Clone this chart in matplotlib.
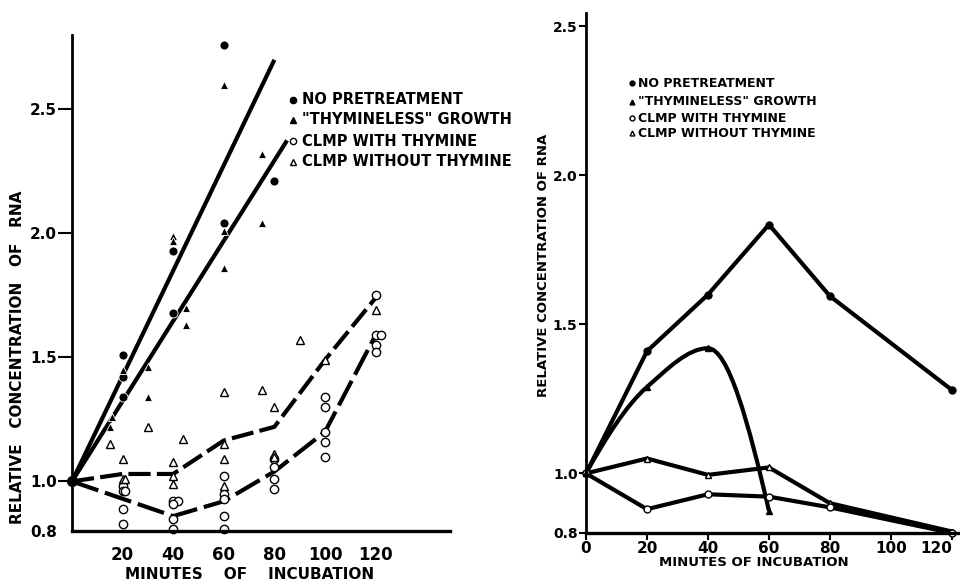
import numpy as np
import matplotlib
matplotlib.use("Agg")
import matplotlib.pyplot as plt
from matplotlib.path import Path
from matplotlib.patches import PathPatch

plt.rcParams['font.family'] = ['DejaVu Sans']
plt.rcParams['lines.scale_dashes'] = False

# ---- left panel: individual experiments ----
np_x = [20, 20, 20, 40, 40, 60, 60, 80]
np_y = [1.51, 1.42, 1.34, 1.93, 1.68, 2.76, 2.04, 2.21]

tg_x = [15, 16, 20, 30, 30, 40, 40, 45, 45, 60, 60, 60, 75, 75]
tg_y = [1.22, 1.26, 1.45, 1.46, 1.34, 1.99, 1.97, 1.70, 1.63, 2.60, 2.01, 1.86, 2.32, 2.04]

cw_x = [20, 20, 21, 20, 20, 40, 42, 40, 40, 40, 60, 60, 60, 60, 60,
        80, 80, 80, 80, 100, 100, 100, 100, 100, 120, 122, 120, 120, 120]
cw_y = [0.98, 0.96, 0.96, 0.89, 0.83, 0.92, 0.92, 0.91, 0.85, 0.81, 1.02, 0.95, 0.93, 0.86, 0.81,
        1.09, 1.06, 1.01, 0.97, 1.34, 1.30, 1.20, 1.16, 1.10, 1.59, 1.59, 1.55, 1.52, 1.75]

cwo_x = [15, 20, 20, 21, 30, 40, 40, 40, 44, 60, 60, 60, 60, 75, 80, 80, 80, 90, 100, 120]
cwo_y = [1.15, 1.09, 1.01, 1.01, 1.22, 1.08, 1.02, 0.99, 1.17, 1.36, 1.15, 1.09, 0.98, 1.37,
         1.30, 1.11, 1.10, 1.57, 1.49, 1.69]

# fitted / drawn curves
fit_np_x = [0, 80]
fit_np_y = [1.0, 2.70]
fit_tg_x = [0, 85]
fit_tg_y = [1.0, 2.375]
fit_cwo_x = [0, 20, 40, 60, 80, 100, 120]
fit_cwo_y = [1.0, 1.03, 1.03, 1.165, 1.22, 1.49, 1.74]
fit_cw_x = [0, 20, 40, 60, 80, 100, 120]
fit_cw_y = [1.0, 0.93, 0.86, 0.92, 1.04, 1.20, 1.59]

# ---- right panel: mean curves ----
r_x = [0, 20, 40, 60, 80, 120]
r_np = [1.0, 1.41, 1.60, 1.835, 1.595, 1.28]
r_tg_x = [0, 20, 40, 60]
r_tg = [1.0, 1.29, 1.42, 0.875]
r_cwo = [1.0, 1.05, 0.995, 1.02, 0.90, 0.805]
r_cw = [1.0, 0.88, 0.93, 0.922, 0.886, 0.80]

labels = ['NO PRETREATMENT', '"THYMINELESS" GROWTH', 'CLMP WITH THYMINE', 'CLMP WITHOUT THYMINE']

fig = plt.figure(figsize=(9.6, 5.82), dpi=100)

# ================= left =================
ax = fig.add_axes([72 / 960, 51 / 582, 378 / 960, 496 / 582])
ax.set_xlim(0, 149.4)
ax.set_ylim(0.8, 2.8)
for s in ['top', 'right']:
    ax.spines[s].set_visible(False)
ax.spines['left'].set_linewidth(2.0)
ax.spines['bottom'].set_linewidth(2.4)

lw = 3.0
ax.plot(fit_np_x, fit_np_y, color='k', lw=lw, solid_capstyle='butt')
ax.plot(fit_tg_x, fit_tg_y, color='k', lw=lw, solid_capstyle='butt')
ax.plot(fit_cwo_x, fit_cwo_y, color='k', lw=lw, dashes=(16, 4.5), dash_capstyle='butt')
ax.plot(fit_cw_x, fit_cw_y, color='k', lw=lw, dashes=(20, 5), dash_capstyle='butt')

ax.plot(np_x, np_y, 'o', color='k', ms=6.5, ls='none', mec='white', mew=0.6, clip_on=False)
ax.plot(tg_x, tg_y, '^', color='k', ms=6, ls='none', mec='white', mew=0.6, clip_on=False)
ax.plot(cw_x, cw_y, 'o', mfc='white', mec='k', ms=6, mew=1.0, ls='none', clip_on=False)
ax.plot(cwo_x, cwo_y, '^', mfc='white', mec='k', ms=6, mew=1.0, ls='none', clip_on=False)
ax.plot([0], [1.0], 'o', color='k', ms=7, clip_on=False)

ax.set_yticks([0.8, 1.0, 1.5, 2.0, 2.5])
ax.set_yticklabels(['0.8', '1.0', '1.5', '2.0', '2.5'], fontsize=11, fontweight='bold')
ax.yaxis.get_major_ticks()[0].tick1line.set_visible(False)
ax.tick_params(axis='y', direction='out', length=10, width=1.5, pad=1)
ax.set_xticks([20, 40, 60, 80, 100, 120])
ax.set_xticklabels(['20', '40', '60', '80', '100', '120'], fontsize=12, fontweight='bold')
ax.tick_params(axis='x', length=0, pad=11)

ax.set_xlabel('MINUTES    OF    INCUBATION', fontsize=11, fontweight='bold', labelpad=0)
ax.xaxis.set_label_coords(0.47, -0.072)
ax.set_ylabel('RELATIVE   CONCENTRATION   OF   RNA', fontsize=11, fontweight='bold')
ax.yaxis.set_label_coords(-0.125, 0.351)

leg_y = [0.869, 0.829, 0.786, 0.744]
leg_m = [dict(marker='o', color='k'), dict(marker='^', color='k'),
         dict(marker='o', mfc='white', mec='k'), dict(marker='^', mfc='white', mec='k')]
for yy, lab, m in zip(leg_y, labels, leg_m):
    ax.plot([0.585], [yy], ls='none', ms=4.5, transform=ax.transAxes, clip_on=False, **m)
    ax.text(0.608, yy, lab, transform=ax.transAxes, fontsize=10.5, fontweight='bold',
            va='center', ha='left')

# ================= right =================
ax2 = fig.add_axes([586 / 960, 49 / 582, 375 / 960, 520 / 582])
ax2.set_xlim(0, 123)
ax2.set_ylim(0.8, 2.545)
for s in ['top', 'right']:
    ax2.spines[s].set_visible(False)
ax2.spines['left'].set_linewidth(2.0)
ax2.spines['bottom'].set_linewidth(2.4)

lw2 = 3.0
ax2.plot(r_x, r_np, color='k', lw=lw2, marker='o', ms=5, clip_on=False)
ax2.plot(r_x, r_cwo, color='k', lw=lw2, marker='^', ms=5, mfc='white', mec='k', mew=1.0, clip_on=False)
ax2.plot(r_x, r_cw, color='k', lw=lw2, marker='o', ms=5, mfc='white', mec='k', mew=1.0, clip_on=False)

# smooth monotone (Fritsch-Carlson) curve through the thymineless points
px = np.array(r_tg_x, dtype=float)
py = np.array(r_tg, dtype=float)
h = np.diff(px)
d = np.diff(py) / h
n = len(px)
m = np.zeros(n)
for i in range(1, n - 1):
    if d[i - 1] * d[i] > 0:
        m[i] = 2 / (1 / d[i - 1] + 1 / d[i])
m[0] = ((2 * h[0] + h[1]) * d[0] - h[0] * d[1]) / (h[0] + h[1])
m[-1] = ((2 * h[-1] + h[-2]) * d[-1] - h[-1] * d[-2]) / (h[-1] + h[-2])
verts = [(px[0], py[0])]
codes = [Path.MOVETO]
for i in range(n - 1):
    c1 = (px[i] + h[i] / 3, py[i] + m[i] * h[i] / 3)
    c2 = (px[i + 1] - h[i] / 3, py[i + 1] - m[i + 1] * h[i] / 3)
    verts += [c1, c2, (px[i + 1], py[i + 1])]
    codes += [Path.CURVE4] * 3
ax2.add_patch(PathPatch(Path(verts, codes), fill=False, lw=lw2, ec='k'))
ax2.plot(r_tg_x, r_tg, '^', color='k', ms=5, ls='none', clip_on=False)

ax2.set_yticks([0.8, 1.0, 1.5, 2.0, 2.5])
ax2.set_yticklabels(['0.8', '1.0', '1.5', '2.0', '2.5'], fontsize=10, fontweight='bold')
ax2.tick_params(axis='y', direction='out', length=5, width=1.5, pad=1)
ax2.set_xticks([0, 20, 40, 60, 80, 100, 120])
ax2.set_xticklabels(['0', '20', '40', '60', '80', '100', '120'], fontsize=11, fontweight='bold')
ax2.get_xticklabels()[-1].set_ha('right')
ax2.tick_params(axis='x', direction='out', length=5, width=1.5, pad=1)

ax2.set_xlabel('MINUTES OF INCUBATION', fontsize=9.5, fontweight='bold', labelpad=0)
ax2.xaxis.set_label_coords(0.448, -0.044)
ax2.set_ylabel('RELATIVE CONCENTRATION OF RNA', fontsize=9.5, fontweight='bold')
ax2.yaxis.set_label_coords(-0.097, 0.515)

leg2_y = [0.865, 0.829, 0.798, 0.769]
for yy, lab, mk in zip(leg2_y, labels, leg_m):
    ax2.plot([0.123], [yy], ls='none', ms=3.5, transform=ax2.transAxes, clip_on=False, **mk)
    ax2.text(0.138, yy, lab, transform=ax2.transAxes, fontsize=9, fontweight='bold',
             va='center', ha='left')

fig.savefig('out.png', dpi=100)
